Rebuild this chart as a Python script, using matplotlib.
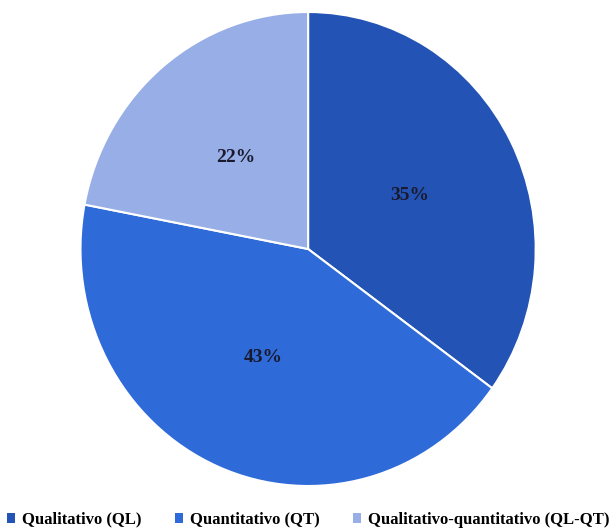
import matplotlib
matplotlib.use("Agg")
import matplotlib.pyplot as plt
from matplotlib.patches import Patch

categories = ["Qualitativo (QL)", "Quantitativo (QT)", "Qualitativo-quantitativo (QL-QT)"]
values = [35, 43, 22]
colors = ["#2353B5", "#2E6AD8", "#98AEE6"]

plt.rcParams['font.family'] = ['Liberation Serif', 'DejaVu Serif']

fig = plt.figure(figsize=(6.16, 5.31), dpi=100)
ax = fig.add_axes([80.5/616, (531-486)/531, 455.2/616, 474/531])
wedges, texts, autotexts = ax.pie(values, colors=colors, startangle=90, counterclock=False,
                                  autopct='%d%%', pctdistance=0.5,
                                  wedgeprops=dict(edgecolor='white', linewidth=1.5),
                                  textprops=dict(fontsize=14, fontweight='bold', color='#1a1a2e'))
ax.set_xlim(-1.0, 1.0)
ax.set_ylim(-1.0, 1.0)
ax.set_aspect('auto')

handles = [Patch(facecolor=c, label=l) for c, l in zip(colors, categories)]
fig.legend(handles=handles, loc='lower center', bbox_to_anchor=(0.5, -0.022), ncol=3,
           frameon=False, prop=dict(size=12, weight='bold'),
           handlelength=0.5, handleheight=0.5, handletextpad=0.4, columnspacing=2.0)

fig.savefig("out.png", dpi=100)
